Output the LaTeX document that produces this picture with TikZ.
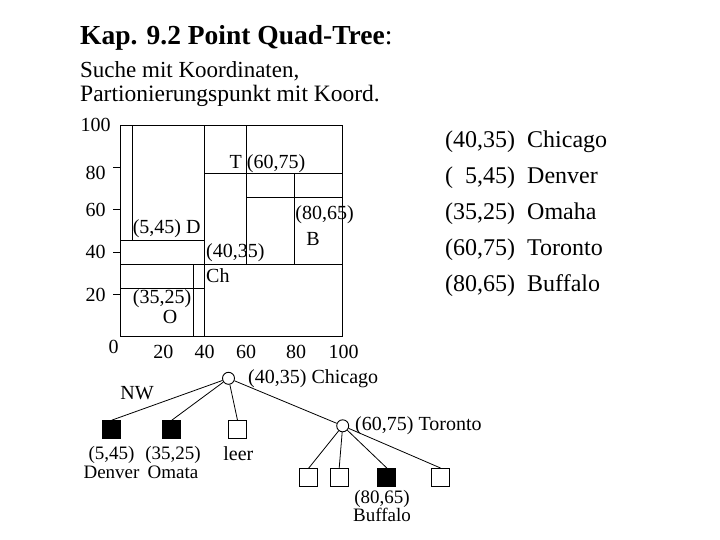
\documentclass[tikz,border=0pt]{standalone}
\usepackage{fontspec}
\setmainfont{Liberation Serif}
\tikzstyle{txt} = [inner sep=0pt, font=\fontsize{20}{18}\selectfont]
\tikzstyle{leaftxt} = [inner sep=0pt, anchor=base, font=\fontsize{19}{18}\selectfont]
\tikzstyle{listtxt} = [inner sep=0pt, anchor=base west, font=\fontsize{24}{26}\selectfont]
\tikzstyle{cell} = [line width=1pt]
\tikzstyle{edge} = [line width=0.8pt]
\tikzstyle{emptyleaf} = [draw, line width=1pt, minimum size=18pt, inner sep=0pt]
\tikzstyle{fullleaf} = [emptyleaf, fill=black]
\tikzstyle{splitnode} = [draw, circle, line width=0.9pt, minimum size=12pt, inner sep=0pt]

\begin{document}
\begin{tikzpicture}[x=1pt, y=-1pt]
\useasboundingbox (0,0) rectangle (720,540);

% Title
\node[anchor=base west, inner sep=0pt, font=\fontsize{27.5}{30}\selectfont] (title) at (80,45) {\textbf{Kap. 9.2 Point Quad-Tree}:};
\node[anchor=base west, inner sep=0pt, font=\fontsize{23}{25}\selectfont] (sub1) at (80,78) {Suche mit Koordinaten,};
\node[anchor=base west, inner sep=0pt, font=\fontsize{23.5}{25}\selectfont] (sub2) at (80,101.5) {Partionierungspunkt mit Koord.};

% Partition of the plane
\draw[cell] (120,126) rectangle (342,336);
\draw[cell] (132,126) -- (132,240);
\draw[cell] (120,240) -- (204,240);
\draw[cell] (204,126) -- (204,336);
\draw[cell] (120,264) -- (342,264);
\draw[cell] (193,264) -- (193,336);
\draw[cell] (120,288) -- (204,288);
\draw[cell] (246,126) -- (246,264);
\draw[cell] (204,174) -- (342,174);
\draw[cell] (294,174) -- (294,264);
\draw[cell] (246,198) -- (342,198);

% Axes
\foreach \y in {168, 210, 252, 294} {
    \draw[cell] (113,\y) -- (120,\y);
}
\node[txt] (y100) at (95.5,125) {100};
\node[txt] (y80) at (95.5,172.5) {80};
\node[txt] (y60) at (95.5,210) {60};
\node[txt] (y40) at (95.5,252.3) {40};
\node[txt] (y20) at (95.5,294.5) {20};
\node[txt] (x0) at (113.5,346.7) {0};
\node[txt] (x20) at (163.3,351.7) {20};
\node[txt] (x40) at (204.5,351.7) {40};
\node[txt] (x60) at (246,351.7) {60};
\node[txt] (x80) at (296,351.7) {80};
\node[txt] (x100) at (343.7,351.7) {100};

% Points
\node[txt] (tpt) at (267.5,163.3) {T (60,75)};
\node[txt] (dpt) at (166.7,228.3) {(5,45) D};
\node[txt, anchor=west] (cpt) at (206,252.3) {(40,35)};
\node[txt, anchor=west] (cname) at (206,275.7) {Ch};
\node[txt] (bpt) at (324.5,215) {(80,65)};
\node[txt] (bname) at (313,239.3) {B};
\node[txt] (opt) at (162,298.3) {(35,25)};
\node[txt] (oname) at (170,316.7) {O};

% Point list
\node[listtxt] (l1) at (445,147.5) {(40,35)};
\node[listtxt] (n1) at (527,147.5) {Chicago};
\node[listtxt] (l2) at (445,183.5) {(\phantom{0}5,45)};
\node[listtxt] (n2) at (527,183.5) {Denver};
\node[listtxt] (l3) at (445,219.5) {(35,25)};
\node[listtxt] (n3) at (527,219.5) {Omaha};
\node[listtxt] (l4) at (445,255.5) {(60,75)};
\node[listtxt] (n4) at (527,255.5) {Toronto};
\node[listtxt] (l5) at (445,291.5) {(80,65)};
\node[listtxt] (n5) at (527,291.5) {Buffalo};

% Tree
\node[splitnode] (root) at (228.5,378.3) {};
\node[splitnode] (tor) at (342.7,425.8) {};
\node[fullleaf] (den) at (111.7,429.7) {};
\node[fullleaf] (oma) at (171.8,429.7) {};
\node[emptyleaf] (leer) at (237.5,429.7) {};
\node[emptyleaf] (t1) at (308.8,477.5) {};
\node[emptyleaf] (t2) at (339.2,477.5) {};
\node[fullleaf] (buf) at (386.8,477.5) {};
\node[emptyleaf] (t4) at (440.5,477.5) {};

\draw[edge] (root) -- (den.north);
\draw[edge] (root) -- (oma.north);
\draw[edge] (root) -- (leer.north);
\draw[edge] (root) -- (tor);
\draw[edge] (tor) -- (t1.north);
\draw[edge] (tor) -- (t2.north);
\draw[edge] (tor) -- (buf.north);
\draw[edge] (tor) -- (t4.north);

\node[txt, anchor=base west] (rootlab) at (248,383) {(40,35) Chicago};
\node[txt, anchor=base west] (torlab) at (355,430.5) {(60,75) Toronto};
\node[txt, anchor=base] (nw) at (137,399.3) {NW};
\node[leaftxt] (denpt) at (111.5,459.5) {(5,45)};
\node[leaftxt] (denname) at (111.5,478) {Denver};
\node[leaftxt] (omapt) at (173,459.5) {(35,25)};
\node[leaftxt] (omaname) at (173,478) {Omata};
\node[txt, anchor=base] (leerlab) at (238.3,460) {leer};
\node[leaftxt] (bufpt) at (382,503) {(80,65)};
\node[leaftxt] (bufname) at (382,521.5) {Buffalo};
\end{tikzpicture}
\end{document}
